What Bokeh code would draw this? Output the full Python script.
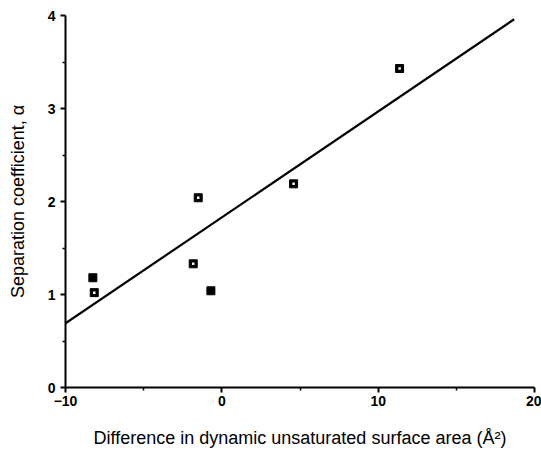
from bokeh.plotting import figure
from bokeh.models import Range1d, FixedTicker
from bokeh.embed import file_html
from bokeh.resources import INLINE

# Data
filled_x = [-8.25, -0.70]
filled_y = [1.18, 1.04]
dotted_x = [-8.16, -1.83, -1.51, 4.59, 11.37]
dotted_y = [1.02, 1.33, 2.04, 2.19, 3.43]
fit_x = [-10.0, 18.7]
fit_y = [0.69, 3.96]
x_ticks = [-10, 0, 10, 20]
x_minor = [-5, 5, 15]
y_ticks = [0, 1, 2, 3, 4]
y_minor = [0.5, 1.5, 2.5, 3.5]

p = figure(width=541, height=459, output_backend="svg", toolbar_location=None,
           x_range=Range1d(-10, 20), y_range=Range1d(0, 4),
           min_border_left=65, min_border_right=7, min_border_top=15, min_border_bottom=72)
p.outline_line_color = None
p.xgrid.grid_line_color = None
p.ygrid.grid_line_color = None
p.background_fill_color = "white"

p.line(fit_x, fit_y, line_color="black", line_width=2.2)
all_x = filled_x + dotted_x
all_y = filled_y + dotted_y
p.scatter(all_x, all_y, marker="square", size=8, fill_color="black", line_color="black")
p.scatter(dotted_x, dotted_y, marker="square", size=2.5, fill_color="white", line_color=None)

for ax in (p.xaxis[0], p.yaxis[0]):
    ax.axis_line_width = 2
    ax.axis_line_color = "black"
    ax.major_tick_line_width = 2
    ax.minor_tick_line_width = 1.5
    ax.major_tick_out = 5
    ax.major_tick_in = 0
    ax.minor_tick_out = 3
    ax.minor_tick_in = 0
    ax.major_label_text_font = "Liberation Sans"
    ax.major_label_text_font_style = "bold"
    ax.major_label_text_font_size = "14px"
    ax.major_label_text_color = "black"
    ax.axis_label_text_font = "Liberation Sans"
    ax.axis_label_text_font_style = "normal"
    ax.axis_label_text_font_size = "18px"
    ax.axis_label_text_color = "black"

p.xaxis.ticker = FixedTicker(ticks=x_ticks, minor_ticks=x_minor)
p.yaxis.ticker = FixedTicker(ticks=y_ticks, minor_ticks=y_minor)
p.xaxis.major_label_standoff = 3
p.yaxis.major_label_standoff = 5
p.xaxis.axis_label = "Difference in dynamic unsaturated surface area (Å²)"
p.yaxis.axis_label = "Separation coefficient, α"
p.xaxis.axis_label_standoff = 19
p.yaxis.axis_label_standoff = 17

open("out.html", "w").write(file_html(p, INLINE))
